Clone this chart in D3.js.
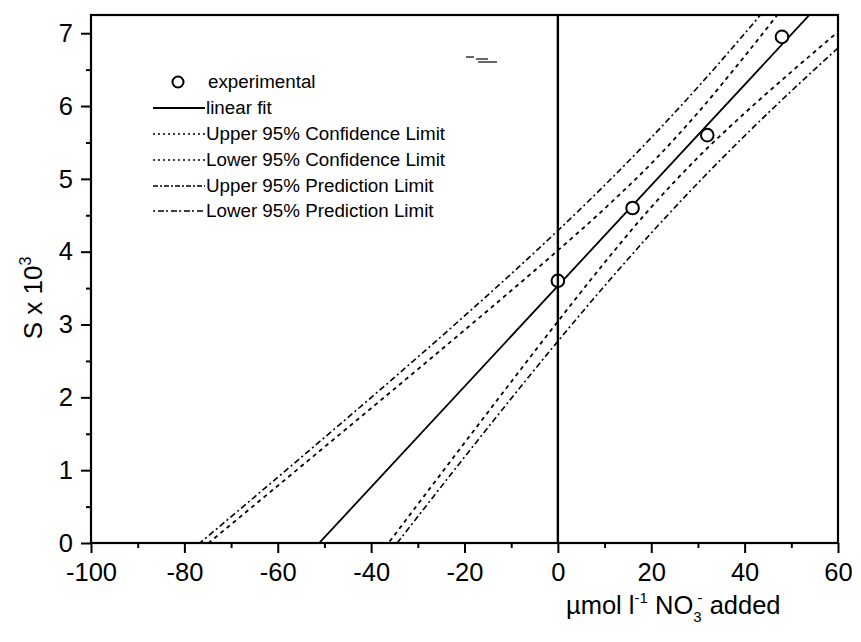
<!DOCTYPE html>
<html><head><meta charset="utf-8">
<script src="https://cdn.jsdelivr.net/npm/d3@7"></script>
<style>body{margin:0;background:#fff} text{font-family:"Liberation Sans",Arial,sans-serif;fill:#000}</style>
</head><body><svg id="c" width="861" height="642"></svg>
<script>
const xTicks=[-100,-80,-60,-40,-20,0,20,40,60];
const xMinor=[-90,-70,-50,-30,-10,10,30,50];
const yTicks=[0,1,2,3,4,5,6,7];
const yMinor=[0.5,1.5,2.5,3.5,4.5,5.5,6.5];
const expX=[0,16,32,48];
const expY=[3.6,4.6,5.6,6.95];
const fitX=[-100,60];
const fitY=[-3.376,7.674];
const bandX=[-100,-80,-70,-60,-50,-40,-30,-20,-10,0,10,20,30,40,50,60];
const upperConf=[-1.334,-0.275,0.255,0.786,1.318,1.850,2.385,2.923,3.465,4.018,4.591,5.210,5.909,6.684,7.497,8.329];
const upperPred=[-1.253,-0.179,0.360,0.902,1.448,1.997,2.553,3.118,3.695,4.290,4.911,5.566,6.261,6.995,7.761,8.551];
const lowerConf=[-5.418,-3.715,-2.864,-2.014,-1.164,-0.315,0.531,1.375,2.213,3.042,3.850,4.612,5.294,5.902,6.469,7.019];
const lowerPred=[-5.499,-3.811,-2.969,-2.130,-1.294,-0.462,0.363,1.180,1.984,2.770,3.530,4.256,4.943,5.591,6.206,6.797];
const legendLabels=["experimental","linear fit","Upper 95% Confidence Limit","Lower 95% Confidence Limit","Upper 95% Prediction Limit","Lower 95% Prediction Limit"];

const svg=d3.select("#c");
const L=91,R=838,T=15,B=543;
const x=d3.scaleLinear().domain([-100,60]).range([L,R]);
const y=d3.scaleLinear().domain([0,7.25]).range([B,T]);

svg.append("defs").append("clipPath").attr("id","clip").append("rect")
  .attr("x",L).attr("y",T).attr("width",R-L).attr("height",B-T);

const styles={
  fit:{dash:null,w:1.8},
  conf:{dash:"4,4",w:1.8},
  pred:{dash:"6,3,2,3",w:1.6}
};

const plot=svg.append("g").attr("clip-path","url(#clip)");
const line=d3.line().x(d=>x(d[0])).y(d=>y(d[1])).curve(d3.curveMonotoneX);
function drawLine(xs,ys,st){
  plot.append("path").datum(xs.map((v,i)=>[v,ys[i]]))
    .attr("d",line).attr("fill","none").attr("stroke","#000")
    .attr("stroke-width",st.w).attr("stroke-dasharray",st.dash);
}
drawLine(bandX,upperPred,styles.pred);
drawLine(bandX,lowerPred,styles.pred);
drawLine(bandX,upperConf,styles.conf);
drawLine(bandX,lowerConf,styles.conf);
drawLine(fitX,fitY,styles.fit);

svg.append("line").attr("x1",x(0)).attr("x2",x(0)).attr("y1",T).attr("y2",B)
  .attr("stroke","#000").attr("stroke-width",2.4);

plot.selectAll("circle.e").data(expX.map((v,i)=>[v,expY[i]])).join("circle")
  .attr("cx",d=>x(d[0])).attr("cy",d=>y(d[1])).attr("r",6.3)
  .attr("fill","#fff").attr("stroke","#000").attr("stroke-width",2);

svg.append("rect").attr("x",L).attr("y",T).attr("width",R-L).attr("height",B-T)
  .attr("fill","none").attr("stroke","#000").attr("stroke-width",2.2);

const fs=25.5;
const gx=svg.append("g").attr("transform",`translate(0,${B})`)
  .call(d3.axisBottom(x).tickValues(xTicks).tickSize(10).tickPadding(10).tickFormat(d3.format("d")));
const gxm=svg.append("g").attr("transform",`translate(0,${B})`)
  .call(d3.axisBottom(x).tickValues(xMinor).tickSize(5).tickFormat(""));
const gy=svg.append("g").attr("transform",`translate(${L},0)`)
  .call(d3.axisLeft(y).tickValues(yTicks).tickSize(10).tickPadding(8).tickFormat(d3.format("d")));
const gym=svg.append("g").attr("transform",`translate(${L},0)`)
  .call(d3.axisLeft(y).tickValues(yMinor).tickSize(5).tickFormat(""));
[gx,gxm,gy,gym].forEach(g=>{
  g.select(".domain").remove();
  g.selectAll(".tick line").attr("stroke","#000").attr("stroke-width",2);
  g.selectAll("text").attr("font-size",fs).attr("font-family",'"Liberation Sans",Arial,sans-serif').attr("fill","#000");
});
gx.selectAll("text").text(d=>d<0?"-"+Math.abs(d):d);

const xt=svg.append("text").attr("x",566).attr("y",614).attr("font-size",25.5);
xt.append("tspan").text("\u00B5mol l");
xt.append("tspan").attr("dy",-11).attr("font-size",15).text("-1");
xt.append("tspan").attr("dy",11).text(" NO");
xt.append("tspan").attr("dy",8).attr("font-size",15).text("3");
xt.append("tspan").attr("dy",-19).attr("dx",-4).attr("font-size",15).text("-");
xt.append("tspan").attr("dy",11).text(" added");

const yt=svg.append("text").attr("transform","translate(42,298) rotate(-90)")
  .attr("text-anchor","middle").attr("font-size",26);
yt.append("tspan").text("S x 10");
yt.append("tspan").attr("dy",-11).attr("font-size",16).text("3");

const lg=svg.append("g");
const rowsY=[82,108,134,160,186,211];
const legStyles=[null,styles.fit,{dash:"2,3",w:1.5},{dash:"2,3",w:1.5},{dash:"5,2,2,2",w:1.4},{dash:"2,3,6,2",w:1.4}];
legendLabels.forEach((lab,i)=>{
  const cy=rowsY[i];
  if(i===0){
    lg.append("circle").attr("cx",178).attr("cy",cy).attr("r",5.5)
      .attr("fill","#fff").attr("stroke","#000").attr("stroke-width",2);
  } else {
    lg.append("line").attr("x1",153).attr("x2",205).attr("y1",cy).attr("y2",cy)
      .attr("stroke","#000").attr("stroke-width",legStyles[i].w).attr("stroke-dasharray",legStyles[i].dash);
  }
  lg.append("text").attr("x",i===0?208:206).attr("y",cy+6).attr("font-size",18.8).text(lab);
});

const art=svg.append("g").attr("stroke","#000").attr("stroke-width",1.2);
[[466,57,474,57],[476,59,488,59],[478,62,497,62]].forEach(s=>
  art.append("line").attr("x1",s[0]).attr("y1",s[1]).attr("x2",s[2]).attr("y2",s[3]));
</script></body></html>
